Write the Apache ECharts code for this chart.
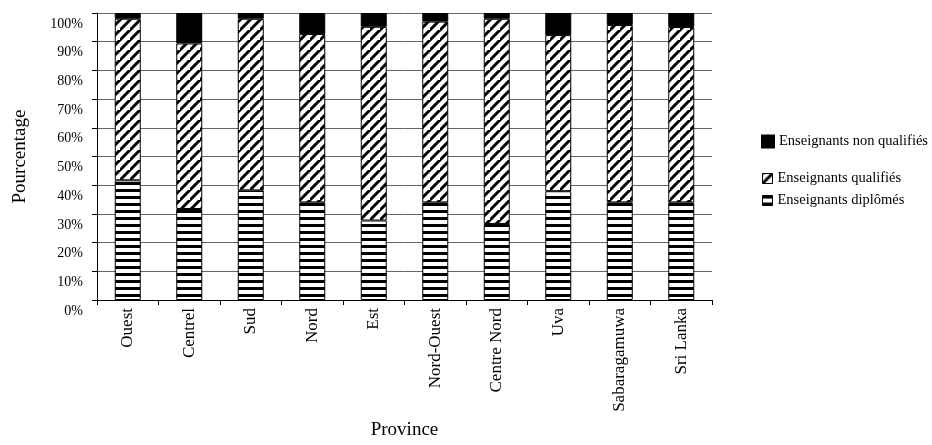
<!DOCTYPE html>
<html>
<head>
<meta charset="utf-8">
<script src="https://cdn.jsdelivr.net/npm/echarts@6/dist/echarts.min.js"></script>
<style>html,body{margin:0;padding:0;background:#fff}#c{width:932px;height:445px}</style>
</head>
<body>
<div id="c"></div>
<script>
var categories = ['Ouest','Centrel','Sud','Nord','Est','Nord-Ouest','Centre Nord','Uva','Sabaragamuwa','Sri Lanka'];
var diplomes = [41.7, 31.7, 38.2, 34.0, 27.7, 34.0, 26.5, 37.9, 34.0, 34.0];
var qualifies = [56.3, 57.7, 59.8, 58.7, 67.5, 63.0, 71.5, 54.4, 61.8, 61.1];
var nonQualifies = [2.0, 10.6, 2.0, 7.3, 4.8, 3.0, 2.0, 7.7, 4.2, 4.9];
var yTicks = [0,10,20,30,40,50,60,70,80,90,100];

function horizPattern(){
  var c = document.createElement('canvas'); c.width = 8; c.height = 7;
  var g = c.getContext('2d');
  g.fillStyle = '#fff'; g.fillRect(0,0,8,7);
  g.fillStyle = '#000'; g.fillRect(0,0,8,3);
  return {image: c, repeat: 'repeat'};
}
function diagPattern(){
  var s = 10;
  var c = document.createElement('canvas'); c.width = s; c.height = s;
  var g = c.getContext('2d');
  g.fillStyle = '#fff'; g.fillRect(0,0,s,s);
  g.strokeStyle = '#000'; g.lineWidth = 3;
  g.beginPath();
  g.moveTo(-1, s+1); g.lineTo(s+1, -1);
  g.moveTo(-s-1, s+1); g.lineTo(1, -1);
  g.moveTo(s-1, 2*s+1); g.lineTo(2*s+1, s-1);
  g.stroke();
  return {image: c, repeat: 'repeat'};
}

var chart = echarts.init(document.getElementById('c'), null, {renderer: 'canvas'});
var font = 'Liberation Serif';
var legendText = {fontFamily: font, fontSize: 14.5, color: '#000'};
chart.setOption({
  animation: false,
  textStyle: {fontFamily: font},
  legend: [
    {left: 756, top: 129, icon: 'rect', itemWidth: 12, itemHeight: 12, itemGap: 6, textStyle: legendText,
     data: [{name: 'Enseignants non qualifiés'}]},
    {left: 757, top: 166, icon: 'rect', itemWidth: 10, itemHeight: 10, itemGap: 6, textStyle: legendText,
     data: [{name: 'Enseignants qualifiés', itemStyle: {borderColor: '#000', borderWidth: 1}}]},
    {left: 757, top: 188, icon: 'rect', itemWidth: 10, itemHeight: 10, itemGap: 6, textStyle: legendText,
     data: [{name: 'Enseignants diplômés', itemStyle: {borderColor: '#000', borderWidth: 1}}]}
  ],
  grid: {left: 97, right: 220, top: 13, bottom: 144, containLabel: false},
  xAxis: {
    type: 'category', data: categories,
    name: 'Province', nameLocation: 'middle', nameGap: 121,
    nameTextStyle: {fontFamily: font, fontSize: 19, color: '#000'},
    axisLine: {lineStyle: {color: '#000', width: 1}},
    axisTick: {show: true, alignWithLabel: false, length: 5, lineStyle: {color: '#000'}},
    axisLabel: {rotate: 90, fontFamily: font, fontSize: 17, color: '#000', margin: 8, interval: 0}
  },
  yAxis: {
    type: 'value', min: 0, max: 100, interval: 10,
    name: 'Pourcentage', nameLocation: 'middle', nameGap: 67,
    nameTextStyle: {fontFamily: font, fontSize: 19, color: '#000'},
    axisLine: {show: true, lineStyle: {color: '#000', width: 1}},
    axisTick: {show: true, length: 5, lineStyle: {color: '#000'}},
    axisLabel: {formatter: function(v){ return yTicks.indexOf(v) >= 0 ? v + '%' : ''; },
      fontFamily: font, fontSize: 14, color: '#000', margin: 14, verticalAlign: 'top', padding: [4,0,0,0]},
    splitLine: {show: true, lineStyle: {color: '#666', width: 1}}
  },
  series: [
    {name: 'Enseignants diplômés', type: 'bar', stack: 'a', barWidth: 26, data: diplomes,
     itemStyle: {color: horizPattern(), borderColor: '#000', borderWidth: 1}},
    {name: 'Enseignants qualifiés', type: 'bar', stack: 'a', barWidth: 26, data: qualifies,
     itemStyle: {color: diagPattern(), borderColor: '#000', borderWidth: 1}},
    {name: 'Enseignants non qualifiés', type: 'bar', stack: 'a', barWidth: 26, data: nonQualifies,
     itemStyle: {color: '#000', borderColor: '#000', borderWidth: 1}}
  ]
});
</script>
</body>
</html>
